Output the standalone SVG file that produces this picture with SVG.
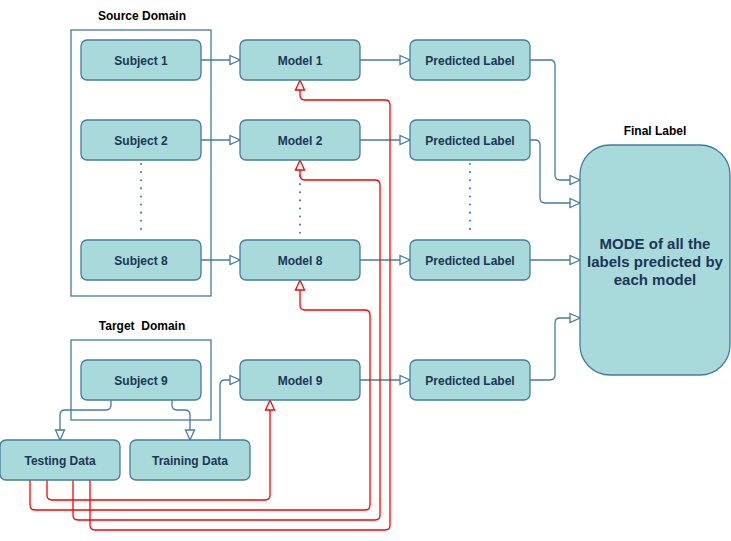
<svg xmlns="http://www.w3.org/2000/svg" width="731" height="541" viewBox="0 0 731 541">
<style>
.n{fill:#A8DADC;stroke:#457B9D;stroke-width:1.3}
.t{font-family:"Liberation Sans",Arial,sans-serif;font-weight:bold;font-size:12px;fill:#1D3557;text-anchor:middle;dominant-baseline:central}
.h{font-family:"Liberation Sans",Arial,sans-serif;font-weight:bold;font-size:12px;fill:#000;text-anchor:middle;dominant-baseline:central;white-space:pre}
.c{fill:none;stroke:#457B9D;stroke-width:1.3}
.b{fill:none;stroke:#457B9D;stroke-width:1.3;marker-end:url(#ab)}
.r{fill:none;stroke:#FF0000;stroke-width:1.3;marker-end:url(#ar)}
.d{fill:none;stroke:#457B9D;stroke-width:2;stroke-dasharray:0.1 8;stroke-linecap:round}
</style>
<defs>
<marker id="ab" markerUnits="userSpaceOnUse" markerWidth="12" markerHeight="10" refX="10" refY="4.5" orient="auto" overflow="visible"><path d="M0,0 L10,4.5 L0,9 Z" fill="#fff" stroke="#457B9D" stroke-width="1.3"/></marker>
<marker id="ar" markerUnits="userSpaceOnUse" markerWidth="12" markerHeight="10" refX="10" refY="4.5" orient="auto" overflow="visible"><path d="M0,0 L10,4.5 L0,9 Z" fill="#fff" stroke="#FF0000" stroke-width="1.3"/></marker>
</defs>
<rect width="731" height="541" fill="#fff"/>
<g id="source-domain"><rect x="71" y="30" width="140" height="266" class="c"/><text x="142" y="16" class="h">Source Domain</text></g>
<g id="target-domain"><rect x="71" y="340" width="140" height="80" class="c"/><text x="142" y="326" class="h" xml:space="preserve">Target  Domain</text></g>
<g id="connectors">
<path class="b" d="M201,60H240"/>
<path class="b" d="M201,140H240"/>
<path class="b" d="M201,260H240"/>
<path class="b" d="M360,60H410"/>
<path class="b" d="M360,140H410"/>
<path class="b" d="M360,260H410"/>
<path class="b" d="M360,380H410"/>
<path class="b" d="M530,60H550Q555,60 555,65V175Q555,180 560,180H580"/>
<path class="b" d="M530,140H535Q540,140 540,145V198Q540,203 545,203H580"/>
<path class="b" d="M530,260H580"/>
<path class="b" d="M530,380H550Q555,380 555,375V323Q555,318 560,318H580"/>
<path class="b" d="M111,400V405Q111,410 106,410H65Q60,410 60,415V440"/>
<path class="b" d="M172,400V405Q172,410 177,410H185Q190,410 190,415V440"/>
<path class="b" d="M220,440V385Q220,380 225,380H240"/>
<path class="d" d="M141,164V236"/>
<path class="d" d="M300,176V236"/>
<path class="d" d="M470,164V236"/>
<path class="r" d="M47,480V495Q47,500 52,500H265Q270,500 270,495V400"/>
<path class="r" d="M30,480V505Q30,510 35,510H365Q370,510 370,505V315Q370,310 365,310H305Q300,310 300,305V280"/>
<path class="r" d="M73,480V515Q73,520 78,520H375Q380,520 380,515V185Q380,180 375,180H305Q300,180 300,175V160"/>
<path class="r" d="M90,480V525Q90,530 95,530H385Q390,530 390,525V105Q390,100 385,100H305Q300,100 300,95V80"/>
</g>
<g id="subject1"><rect x="81" y="40" width="120" height="40" rx="6" class="n"/><text x="141" y="61" class="t">Subject 1</text></g>
<g id="subject2"><rect x="81" y="120" width="120" height="40" rx="6" class="n"/><text x="141" y="141" class="t">Subject 2</text></g>
<g id="subject8"><rect x="81" y="240" width="120" height="40" rx="6" class="n"/><text x="141" y="261" class="t">Subject 8</text></g>
<g id="subject9"><rect x="81" y="360" width="120" height="40" rx="6" class="n"/><text x="141" y="381" class="t">Subject 9</text></g>
<g id="model1"><rect x="240" y="40" width="120" height="40" rx="6" class="n"/><text x="300" y="61" class="t">Model 1</text></g>
<g id="model2"><rect x="240" y="120" width="120" height="40" rx="6" class="n"/><text x="300" y="141" class="t">Model 2</text></g>
<g id="model8"><rect x="240" y="240" width="120" height="40" rx="6" class="n"/><text x="300" y="261" class="t">Model 8</text></g>
<g id="model9"><rect x="240" y="360" width="120" height="40" rx="6" class="n"/><text x="300" y="381" class="t">Model 9</text></g>
<g id="pred1"><rect x="410" y="40" width="120" height="40" rx="6" class="n"/><text x="470" y="61" class="t">Predicted Label</text></g>
<g id="pred2"><rect x="410" y="120" width="120" height="40" rx="6" class="n"/><text x="470" y="141" class="t">Predicted Label</text></g>
<g id="pred8"><rect x="410" y="240" width="120" height="40" rx="6" class="n"/><text x="470" y="261" class="t">Predicted Label</text></g>
<g id="pred9"><rect x="410" y="360" width="120" height="40" rx="6" class="n"/><text x="470" y="381" class="t">Predicted Label</text></g>
<g id="testing"><rect x="0" y="440" width="120" height="40" rx="6" class="n"/><text x="60" y="461" class="t">Testing Data</text></g>
<g id="training"><rect x="130" y="440" width="120" height="40" rx="6" class="n"/><text x="190" y="461" class="t">Training Data</text></g>
<g id="final"><rect x="580" y="145" width="150" height="230" rx="30" class="n"/><text x="655" y="131" class="h">Final Label</text>
<text x="655" y="243" class="t" style="font-size:15px">MODE of all the</text>
<text x="655" y="261" class="t" style="font-size:15px">labels predicted by</text>
<text x="655" y="279" class="t" style="font-size:15px">each model</text></g>
</svg>
